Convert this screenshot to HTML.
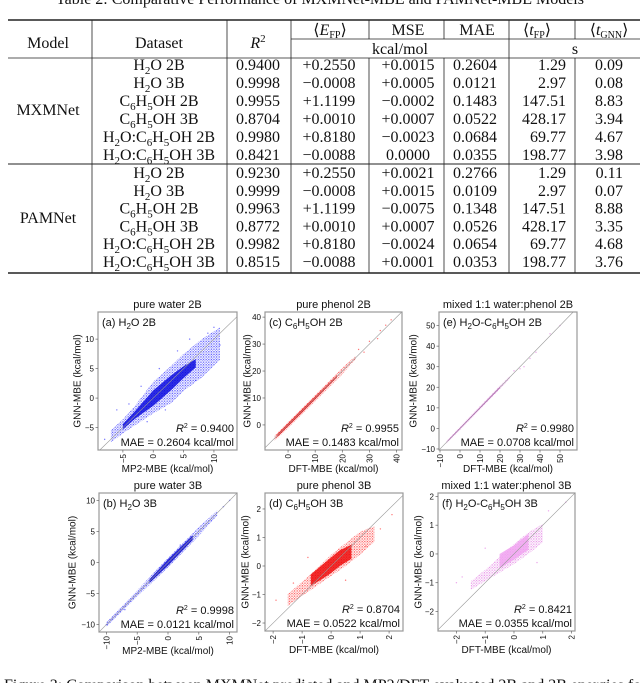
<!DOCTYPE html>
<html><head><meta charset="utf-8"><style>
html,body{margin:0;padding:0;background:#fff;width:640px;height:683px;overflow:hidden}
svg{display:block}
.tb{font-family:"Liberation Serif",serif;font-size:16px;fill:#111}
.pl{font-family:"Liberation Sans",sans-serif;fill:#111}
</style></head><body>
<svg id="root" width="640" height="683" viewBox="0 0 640 683">
<defs id="defs"></defs>
<g class="tb">
<text x="320" y="4" text-anchor="middle">Table 2: Comparative Performance of MXMNet-MBE and PAMNet-MBE Models</text>
<g stroke="#222" fill="none">
<line x1="8" y1="20" x2="640" y2="20" stroke-width="1.4"/>
<line x1="291" y1="39" x2="640" y2="39" stroke-width="0.8"/>
<line x1="8" y1="58" x2="640" y2="58" stroke-width="0.8"/>
<line x1="8" y1="164" x2="640" y2="164" stroke-width="0.9"/>
<line x1="8" y1="273" x2="640" y2="273" stroke-width="1.4"/>
<line x1="92" y1="20" x2="92" y2="273" stroke-width="0.8"/>
<line x1="227" y1="20" x2="227" y2="273" stroke-width="0.8"/>
<line x1="291" y1="20" x2="291" y2="273" stroke-width="0.8"/>
<line x1="509" y1="20" x2="509" y2="273" stroke-width="0.8"/>
<line x1="369" y1="20" x2="369" y2="39" stroke-width="0.8"/><line x1="369" y1="58" x2="369" y2="273" stroke-width="0.8"/>
<line x1="444" y1="20" x2="444" y2="39" stroke-width="0.8"/><line x1="444" y1="58" x2="444" y2="273" stroke-width="0.8"/>
<line x1="575" y1="20" x2="575" y2="39" stroke-width="0.8"/><line x1="575" y1="58" x2="575" y2="273" stroke-width="0.8"/>
</g>
<text x="48" y="48" text-anchor="middle">Model</text>
<text x="159" y="48" text-anchor="middle">Dataset</text>
<text x="258" y="48" text-anchor="middle" font-style="italic">R<tspan font-style="normal" font-size="11" dy="-6">2</tspan></text>
<text x="330" y="35" text-anchor="middle">⟨<tspan font-style="italic">E</tspan><tspan font-size="10" dy="3">FP</tspan><tspan dy="-3">⟩</tspan></text>
<text x="408" y="35" text-anchor="middle">MSE</text>
<text x="477" y="35" text-anchor="middle">MAE</text>
<text x="537" y="35" text-anchor="middle">⟨<tspan font-style="italic">t</tspan><tspan font-size="10" dy="3">FP</tspan><tspan dy="-3">⟩</tspan></text>
<text x="609" y="35" text-anchor="middle">⟨<tspan font-style="italic">t</tspan><tspan font-size="10" dy="3">GNN</tspan><tspan dy="-3">⟩</tspan></text>
<text x="400" y="54" text-anchor="middle">kcal/mol</text>
<text x="575" y="54" text-anchor="middle">s</text>
<text x="48" y="115" text-anchor="middle">MXMNet</text>
<text x="48" y="223" text-anchor="middle">PAMNet</text>
<g id="rows"></g>
</g>
<g id="plots"></g>
<text class="tb" x="4" y="690">Figure 3: Comparison between MXMNet predicted and MP2/DFT-evaluated 2B and 3B energies for the</text>
</svg>
<script>
// ---- table data ----
const datasets=["H2O 2B","H2O 3B","C6H5OH 2B","C6H5OH 3B","H2O:C6H5OH 2B","H2O:C6H5OH 3B"];
const r2Vals=["0.9400","0.9998","0.9955","0.8704","0.9980","0.8421","0.9230","0.9999","0.9963","0.8772","0.9982","0.8515"];
const efpVals=["+0.2550","\u22120.0008","+1.1199","+0.0010","+0.8180","\u22120.0088","+0.2550","\u22120.0008","+1.1199","+0.0010","+0.8180","\u22120.0088"];
const mseVals=["+0.0015","+0.0005","\u22120.0002","+0.0007","\u22120.0023","0.0000","+0.0021","+0.0015","\u22120.0075","+0.0007","\u22120.0024","+0.0001"];
const maeVals=["0.2604","0.0121","0.1483","0.0522","0.0684","0.0355","0.2766","0.0109","0.1348","0.0526","0.0654","0.0353"];
const tfpVals=["1.29","2.97","147.51","428.17","69.77","198.77","1.29","2.97","147.51","428.17","69.77","198.77"];
const tgnnVals=["0.09","0.08","8.83","3.94","4.67","3.98","0.11","0.07","8.88","3.35","4.68","3.76"];

const NS="http://www.w3.org/2000/svg";
function mk(tag,attrs,parent){const e=document.createElementNS(NS,tag);for(const k in attrs)e.setAttribute(k,attrs[k]);if(parent)parent.appendChild(e);return e;}
function dsMarkup(s){
  return s.replace(/([A-Z])(\d)/g,'$1<tspan font-size="11" dy="4">$2</tspan><tspan dy="-4">\u200b</tspan>');
}
const rowsG=document.getElementById('rows');
for(let i=0;i<12;i++){
  const y=i<6?70+i*18:178+(i-6)*17.8;
  const t=mk('text',{x:159,y:y,'text-anchor':'middle'},rowsG);
  t.innerHTML=dsMarkup(datasets[i%6]);
  
  
  const cells=[[258,r2Vals[i],'middle'],[329,efpVals[i],'middle'],[408,mseVals[i],'middle'],[475,maeVals[i],'middle'],[566,tfpVals[i],'end'],[623,tgnnVals[i],'end']];
  cells.forEach(c=>{const e=mk('text',{x:c[0],y:y,'text-anchor':c[2]},rowsG);e.textContent=c[1];
    
    });
}

// ---- scatter data ----
const aOuterX=[-7,-5,-3,0,3,5,8,11], aOuterLo=[-7.5,-6,-4.6,-2.6,-0.8,1.2,3.5,6.5], aOuterHi=[-5.5,-3.6,-1.3,2.8,5.5,7.5,10,12];
const aInnerX=[-5,-3,0,3,5,7], aInnerLo=[-5.3,-3.5,-1.3,1.4,3.4,5.2], aInnerHi=[-4.4,-2.2,1.3,3.9,5.4,6.6];
const aPtsX=[-8,-6,-4,-2,1,2,6,7,9,10,11,4,-1], aPtsY=[-7,-2,-1,2,5,-2,10,3,11,12,9,8,-4];
const bOuterX=[-10,-5,0,5,8], bOuterLo=[-10.4,-5.5,-0.8,4.3,7.6], bOuterHi=[-9.6,-4.5,0.8,5.7,8.4];
const bInnerX=[-3,0,4], bInnerLo=[-3.3,-0.5,3.6], bInnerHi=[-2.7,0.5,4.4];
const bPtsX=[-10,9,10,2,-7], bPtsY=[-10,9,10,2.8,-7.6];
const cOuterX=[-5,0,10,20,25], cOuterLo=[-6,-1.2,8.8,18.8,24.4], cOuterHi=[-4,1.2,11.2,21.2,25.6];
const cInnerX=[-4,5,18], cInnerLo=[-4.5,4.4,17.6], cInnerHi=[-3.5,5.6,18.4];
const cPtsX=[28,30,33,36,38,34,26], cPtsY=[27,31,32,37,39,35,28];
const eOuterX=[-7,0,10,20,25], eOuterLo=[-7.6,-0.9,9.1,19.2,24.4], eOuterHi=[-6.4,0.9,10.9,20.8,25.6];
const eInnerX=[-6,8,20], eInnerLo=[-6.3,7.6,19.6], eInnerHi=[-5.7,8.4,20.4];
const ePtsX=[27,30,32,38,45,50,35], ePtsY=[28,29,30,37,46,50,34];
const dOuterX=[-1.5,-1,-0.5,0,0.5,1,1.5], dOuterLo=[-1.4,-1.05,-0.7,-0.35,0,0.4,0.85], dOuterHi=[-1.0,-0.55,-0.1,0.4,0.8,1.2,1.4];
const dInnerX=[-0.7,-0.3,0,0.3,0.7], dInnerLo=[-0.7,-0.45,-0.25,0,0.25], dInnerHi=[-0.3,0.05,0.3,0.55,0.75];
const dPtsX=[-1.9,-1.3,1.7,2.1,1.2,-0.8,0.5], dPtsY=[-1.2,-0.6,1.3,1.8,0.7,0.3,-0.5];
const fOuterX=[-1.5,-1,-0.5,0,0.5,1], fOuterLo=[-1.25,-0.95,-0.65,-0.35,0,0.4], fOuterHi=[-0.95,-0.55,-0.1,0.35,0.75,1.05];
const fInnerX=[-0.5,0,0.5], fInnerLo=[-0.5,-0.2,0.15], fInnerHi=[0,0.3,0.7];
const fPtsX=[-2,-1.8,1.2,1.8,-1,0.8], fPtsY=[-1,-0.8,1.5,1.8,0.2,-0.3];

const panels=[
 {id:'a',box:[98,312,237,450],xd:[-9.1,13.8],yd:[-8.8,14.6],xt:[-5,0,5,10],yt:[-5,0,5,10],col:'#2020ff',inner:'#0000dd',
  ox:aOuterX,olo:aOuterLo,ohi:aOuterHi,ix:aInnerX,ilo:aInnerLo,ihi:aInnerHi,px:aPtsX,py:aPtsY,
  title:'pure water 2B',lab:'(a) H<tspan font-size="8" dy="3">2</tspan><tspan dy="-3">O 2B</tspan>',r2:'0.9400',mae:'0.2604',xl:'MP2-MBE (kcal/mol)',ylx:77},
 {id:'c',box:[265,312,402,450],xd:[-8.5,42],yd:[-9.3,41.9],xt:[0,10,20,30,40],yt:[0,10,20,30,40],col:'#ff2020',inner:'#ee0000',
  ox:cOuterX,olo:cOuterLo,ohi:cOuterHi,ix:cInnerX,ilo:cInnerLo,ihi:cInnerHi,px:cPtsX,py:cPtsY,
  title:'pure phenol 2B',lab:'(c) C<tspan font-size="8" dy="3">6</tspan><tspan dy="-3">H</tspan><tspan font-size="8" dy="3">5</tspan><tspan dy="-3">OH 2B</tspan>',r2:'0.9955',mae:'0.1483',xl:'DFT-MBE (kcal/mol)',ylx:247},
 {id:'e',box:[439,312,577,450],xd:[-10.5,58.5],yd:[-10.5,56.6],xt:[-10,0,10,20,30,40,50],yt:[-10,0,10,20,30,40,50],col:'#e070e0',inner:'#d040d0',
  ox:eOuterX,olo:eOuterLo,ohi:eOuterHi,ix:eInnerX,ilo:eInnerLo,ihi:eInnerHi,px:ePtsX,py:ePtsY,
  title:'mixed 1:1 water:phenol 2B',lab:'(e) H<tspan font-size="8" dy="3">2</tspan><tspan dy="-3">O-C</tspan><tspan font-size="8" dy="3">6</tspan><tspan dy="-3">H</tspan><tspan font-size="8" dy="3">5</tspan><tspan dy="-3">OH 2B</tspan>',r2:'0.9980',mae:'0.0708',xl:'DFT-MBE (kcal/mol)',ylx:413},
 {id:'b',box:[99,493,237,632],xd:[-11.2,11.2],yd:[-11.2,11.2],xt:[-10,-5,0,5,10],yt:[-10,-5,0,5,10],col:'#2020ff',inner:'#0000cc',
  ox:bOuterX,olo:bOuterLo,ohi:bOuterHi,ix:bInnerX,ilo:bInnerLo,ihi:bInnerHi,px:bPtsX,py:bPtsY,
  title:'pure water 3B',lab:'(b) H<tspan font-size="8" dy="3">2</tspan><tspan dy="-3">O 3B</tspan>',r2:'0.9998',mae:'0.0121',xl:'MP2-MBE (kcal/mol)',ylx:72},
 {id:'d',box:[265,493,403,631],xd:[-2.28,2.48],yd:[-2.28,2.56],xt:[-2,-1,0,1,2],yt:[-2,-1,0,1,2],col:'#ff2020',inner:'#ee0000',
  ox:dOuterX,olo:dOuterLo,ohi:dOuterHi,ix:dInnerX,ilo:dInnerLo,ihi:dInnerHi,px:dPtsX,py:dPtsY,
  title:'pure phenol 3B',lab:'(d) C<tspan font-size="8" dy="3">6</tspan><tspan dy="-3">H</tspan><tspan font-size="8" dy="3">5</tspan><tspan dy="-3">OH 3B</tspan>',r2:'0.8704',mae:'0.0522',xl:'DFT-MBE (kcal/mol)',ylx:245},
 {id:'f',box:[438,493,575,631],xd:[-2.64,2.12],yd:[-2.68,2.12],xt:[-2,-1,0,1,2],yt:[-2,-1,0,1,2],col:'#e070e0',inner:'#f0a0f0',
  ox:fOuterX,olo:fOuterLo,ohi:fOuterHi,ix:fInnerX,ilo:fInnerLo,ihi:fInnerHi,px:fPtsX,py:fPtsY,
  title:'mixed 1:1 water:phenol 3B',lab:'(f) H<tspan font-size="8" dy="3">2</tspan><tspan dy="-3">O-C</tspan><tspan font-size="8" dy="3">6</tspan><tspan dy="-3">H</tspan><tspan font-size="8" dy="3">5</tspan><tspan dy="-3">OH 3B</tspan>',r2:'0.8421',mae:'0.0355',xl:'DFT-MBE (kcal/mol)',ylx:418}
];
const fmt=v=>v<0?'\u2212'+Math.abs(v):String(v);
const plotsG=document.getElementById('plots');
const defs=document.getElementById('defs');
panels.forEach(p=>{
  const [x0,y0,x1,y1]=p.box;
  const sx=v=>x0+(v-p.xd[0])/(p.xd[1]-p.xd[0])*(x1-x0);
  const sy=v=>y1-(v-p.yd[0])/(p.yd[1]-p.yd[0])*(y1-y0);
  const pat=mk('pattern',{id:'pat'+p.id,width:2.6,height:2.6,patternUnits:'userSpaceOnUse'},defs);
  mk('circle',{cx:0.8,cy:0.8,r:0.75,fill:p.col},pat);
  mk('circle',{cx:2.1,cy:2.0,r:0.5,fill:p.col},pat);
  const g=mk('g',{},plotsG);
  
  
  const cp='clip'+p.id;
  const cpEl=mk('clipPath',{id:cp},g);mk('rect',{x:x0,y:y0,width:x1-x0,height:y1-y0},cpEl);
  const inner=mk('g',{'clip-path':'url(#'+cp+')'},g);
  const band=(xs,lo,hi,fill,op,name,w)=>{
    let pts=xs.map((x,i)=>sx(x)+','+sy(hi[i]));
    pts=pts.concat(xs.map((x,i)=>sx(x)+','+sy(lo[i])).reverse());
    const e=mk('polygon',{points:pts.join(' '),fill:fill,'fill-opacity':op,stroke:'none'},inner);
    
    
  };
  band(p.ox,p.olo,p.ohi,'url(#pat'+p.id+')',0.75,'scatter-cloud');
  band(p.ix,p.ilo,p.ihi,p.inner,0.8,'scatter-core');
  p.px.forEach((x,i)=>{const c=mk('circle',{cx:sx(x),cy:sy(p.py[i]),r:0.7,fill:p.col,'fill-opacity':0.6},inner);
    
    });
  const lo=Math.max(p.xd[0],p.yd[0]),hi=Math.min(p.xd[1],p.yd[1]);
  const dl=mk('line',{x1:sx(lo),y1:sy(lo),x2:sx(hi),y2:sy(hi),stroke:'#999','stroke-width':0.6},inner);
  
  
  const fr=mk('rect',{x:x0,y:y0,width:x1-x0,height:y1-y0,fill:'none',stroke:'#999','stroke-width':1.2},g);
  
  
  p.xt.forEach(v=>{const X=sx(v);mk('line',{x1:X,y1:y1,x2:X,y2:y1+2.5,stroke:'#666','stroke-width':0.7},g);
    const t=mk('text',{class:'pl','font-size':8,fill:'#333',transform:'translate('+(X+3)+','+(y1+4)+') rotate(-90)','text-anchor':'end'},g);t.textContent=fmt(v);
    
    });
  p.yt.forEach(v=>{const Y=sy(v);mk('line',{x1:x0-2.5,y1:Y,x2:x0,y2:Y,stroke:'#666','stroke-width':0.7},g);
    const t=mk('text',{class:'pl','font-size':8,fill:'#333',x:x0-4,y:Y+3,'text-anchor':'end'},g);t.textContent=fmt(v);
    
    });
  const ti=mk('text',{class:'pl','font-size':11,x:(x0+x1)/2,y:y0-4,'text-anchor':'middle'},g);ti.textContent=p.title;
  
  
  const lb=mk('text',{class:'pl','font-size':11,x:x0+4,y:y0+14},g);lb.innerHTML=p.lab;
  
  
  const r2=mk('text',{class:'pl','font-size':11,x:x1-3,y:y1-18,'text-anchor':'end'},g);
  r2.innerHTML='<tspan font-style="italic">R</tspan><tspan font-size="7" dy="-4">2</tspan><tspan dy="4"> = '+p.r2+'</tspan>';
  
  
  const ma=mk('text',{class:'pl','font-size':11,x:x1-3,y:y1-4,'text-anchor':'end'},g);ma.textContent='MAE = '+p.mae+' kcal/mol';
  
  
  const xl=mk('text',{class:'pl','font-size':10,fill:'#222',x:(x0+x1)/2,y:y1+22,'text-anchor':'middle'},g);xl.textContent=p.xl;
  
  
  const yl=mk('text',{class:'pl','font-size':10,fill:'#222',transform:'translate('+(p.ylx+3.5)+','+((y0+y1)/2)+') rotate(-90)','text-anchor':'middle'},g);yl.textContent='GNN-MBE (kcal/mol)';
  
  
});
</script>
</body></html>
